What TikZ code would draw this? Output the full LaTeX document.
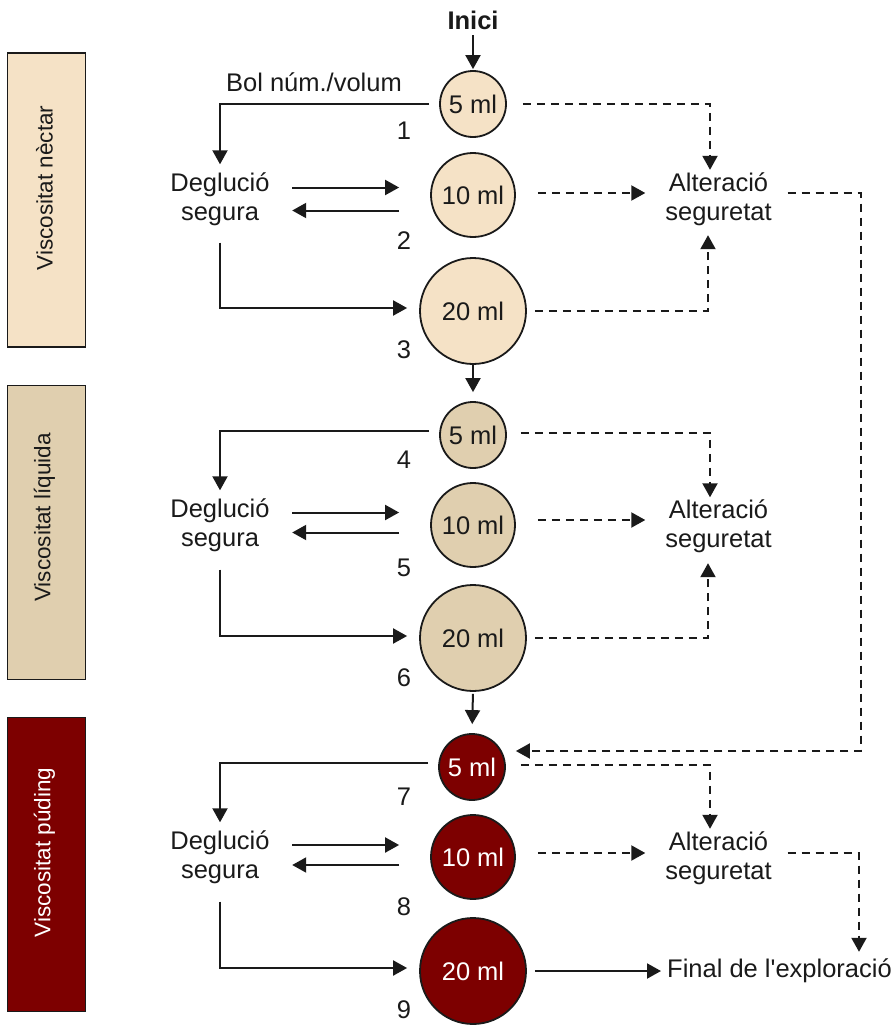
\documentclass[tikz,border=0pt]{standalone}
\usepackage{fontspec}
\setmainfont{Liberation Sans}
\newfontfamily\apfont{Liberation Sans}
\usetikzlibrary{arrows.meta,calc}
\definecolor{nectar}{HTML}{F5E2C6}
\definecolor{liquida}{HTML}{E0CFAF}
\definecolor{puding}{HTML}{7D0000}
\definecolor{ink}{HTML}{1A1A1A}
\begin{document}
\begin{tikzpicture}[x=1pt,y=-1pt,
  every node/.style={font=\fontsize{25.5}{29}\selectfont, text=ink},
  tip/.style={-{Triangle[length=14pt,width=15pt]}},
  conn/.style={draw=ink,line width=2pt,tip},
  dconn/.style={draw=ink,line width=2pt,tip,dash pattern=on 8pt off 6pt},
  sidebox/.style={draw=ink,line width=1.8pt,minimum width=78pt,minimum height=294pt,inner sep=0pt},
  sidetext/.style={rotate=90,font=\fontsize{22.5}{26}\selectfont},
  bol/.style={circle,draw=ink,line width=1.8pt,inner sep=0pt},
  s5/.style={bol,minimum size=66pt},
  s10/.style={bol,minimum size=84pt},
  s20/.style={bol,minimum size=106pt},
  deg/.style={align=center,minimum width=144pt,minimum height=70pt,inner sep=0pt},
  alt/.style={align=center,minimum width=146pt,minimum height=58pt,inner sep=0pt},
  wt/.style={text=white}]
\useasboundingbox (0,0) rectangle (894,1025);

% side boxes
\node[sidebox,fill=nectar] (b1) at (46.5,200) {};
\node[sidebox,fill=liquida] (b2) at (46.5,532.5) {};
\node[sidebox,fill=puding] (b3) at (46.5,864.5) {};
\node[sidetext] (t1) at ($(b1.center)+(-2,-12)$) {Viscositat nèctar};
\node[sidetext] (t2) at ($(b2.center)+(-2,-15)$) {Viscositat líquida};
\node[sidetext,wt] (t3) at ($(b3.center)+(-2,-12)$) {Viscositat púding};

% top
\node[font=\fontsize{25.5}{29}\selectfont\bfseries,inner sep=0pt,minimum height=30pt] (inici) at (473,20) {Inici};
\node (bol) at (314,82) {Bol núm./volum};

% circles
\node[s5,fill=nectar] (c1) at (473,104) {5 ml};
\node[s10,fill=nectar] (c2) at (473,195) {10 ml};
\node[s20,fill=nectar] (c3) at (473,311) {20 ml};
\node[s5,fill=liquida] (c4) at (473,435) {5 ml};
\node[s10,fill=liquida] (c5) at (473,525) {10 ml};
\node[s20,fill=liquida] (c6) at (473,638) {20 ml};
\node[s5,fill=puding,wt] (c7) at (472,767) {5 ml};
\node[s10,fill=puding,wt] (c8) at (473,857) {10 ml};
\node[s20,fill=puding,wt] (c9) at (473,971) {20 ml};

% numbers
\node (n1) at (404,131) {1};
\node (n2) at (404,241) {2};
\node (n3) at (404,350) {3};
\node (n4) at (404,460) {4};
\node (n5) at (404,568) {5};
\node (n6) at (404,678) {6};
\node (n7) at (404,797) {7};
\node (n8) at (404,907) {8};
\node (n9) at (404,1010) {9};

% Deglucio segura
\node[deg] (d1) at (220,199.5) {Deglució\\segura};
\node[deg] (d2) at (220,525.5) {Deglució\\segura};
\node[deg] (d3) at (220,857.5) {Deglució\\segura};

% Alteracio seguretat
\node[alt] (a1) at (718.5,199) {Alteració\\seguretat};
\node[alt] (a2) at (718.5,526.5) {Alteració\\seguretat};
\node[alt] (a3) at (718.5,858) {Alteració\\seguretat};

\node[anchor=west,inner xsep=6pt,inner ysep=0pt,minimum height=38pt] (fin) at (661,971) {Final de l{\apfont'}exploració};

\coordinate (k1) at (861,751);
\coordinate (k2) at (859,0);

% solid connectors
\draw[conn,shorten >=1pt] (inici.south) -- (c1.north);
\draw[conn,shorten >=9pt,shorten <=-1pt] (c3.south) -- (c4.north);
\draw[conn,shorten >=9pt,shorten <=2pt] (c6.south) -- (c7.north);

% column 1
\draw[conn,shorten <=10pt] (c1.west) -| (d1.north);
\draw[conn,shorten >=31pt] ([yshift=12pt]d1.east) -- ([yshift=12pt]d1.east -| c2.west);
\draw[conn,shorten <=31pt] ([yshift=-11pt]d1.east -| c2.west) -- ([yshift=-11pt]d1.east);
\draw[conn,shorten <=8pt,shorten >=12pt] (d1.south) |- ([yshift=3pt]c3.west);
% column 2
\draw[conn,shorten <=10pt] ([yshift=4pt]c4.west) -| (d2.north);
\draw[conn,shorten >=31pt] ([yshift=13pt]d2.east) -- ([yshift=13pt]d2.east -| c5.west);
\draw[conn,shorten <=31pt] ([yshift=-7pt]d2.east -| c5.west) -- ([yshift=-7pt]d2.east);
\draw[conn,shorten <=9pt,shorten >=12pt] (d2.south) |- ([yshift=2pt]c6.west);
% column 3
\draw[conn,shorten <=10pt] ([yshift=4pt]c7.west) -| (d3.north);
\draw[conn,shorten >=31pt] ([yshift=12.5pt]d3.east) -- ([yshift=12.5pt]d3.east -| c8.west);
\draw[conn,shorten <=31pt] ([yshift=-7.5pt]d3.east -| c8.west) -- ([yshift=-7.5pt]d3.east);
\draw[conn,shorten <=9pt,shorten >=12pt] (d3.south) |- ([yshift=3pt]c9.west);
\draw[conn,shorten <=8pt] (c9.east) -- (fin.west);

% dashed connectors
\draw[dconn,shorten <=16pt] (c1.east) -| ([xshift=-8.5pt]a1.north);
\draw[dconn,shorten <=22pt] ([yshift=2pt]c2.east) -- ([yshift=2pt]c2.east -| a1.west);
\draw[dconn,shorten <=8pt,shorten >=7pt] (c3.east) -| ([xshift=-10.5pt]a1.south);
\draw[dconn,shorten <=-4pt,shorten >=10pt] ([yshift=6pt]a1.east) -| (k1) -- ([yshift=16pt]c7.east);

\draw[dconn,shorten <=14pt] ([yshift=2pt]c4.east) -| ([xshift=-8.5pt]a2.north);
\draw[dconn,shorten <=22pt] ([yshift=5pt]c5.east) -- ([yshift=5pt]c5.east -| a2.west);
\draw[dconn,shorten <=8pt,shorten >=7.5pt] (c6.east) -| ([xshift=-10.5pt]a2.south);

\draw[dconn,shorten <=15pt] ([yshift=2pt]c7.east) -| ([xshift=-8.5pt]a3.north);
\draw[dconn,shorten <=22pt] ([yshift=4pt]c8.east) -- ([yshift=4pt]c8.east -| a3.west);
\draw[dconn,shorten <=-4pt] ([yshift=5pt]a3.east) -| (k2 |- fin.north);
\end{tikzpicture}
\end{document}
